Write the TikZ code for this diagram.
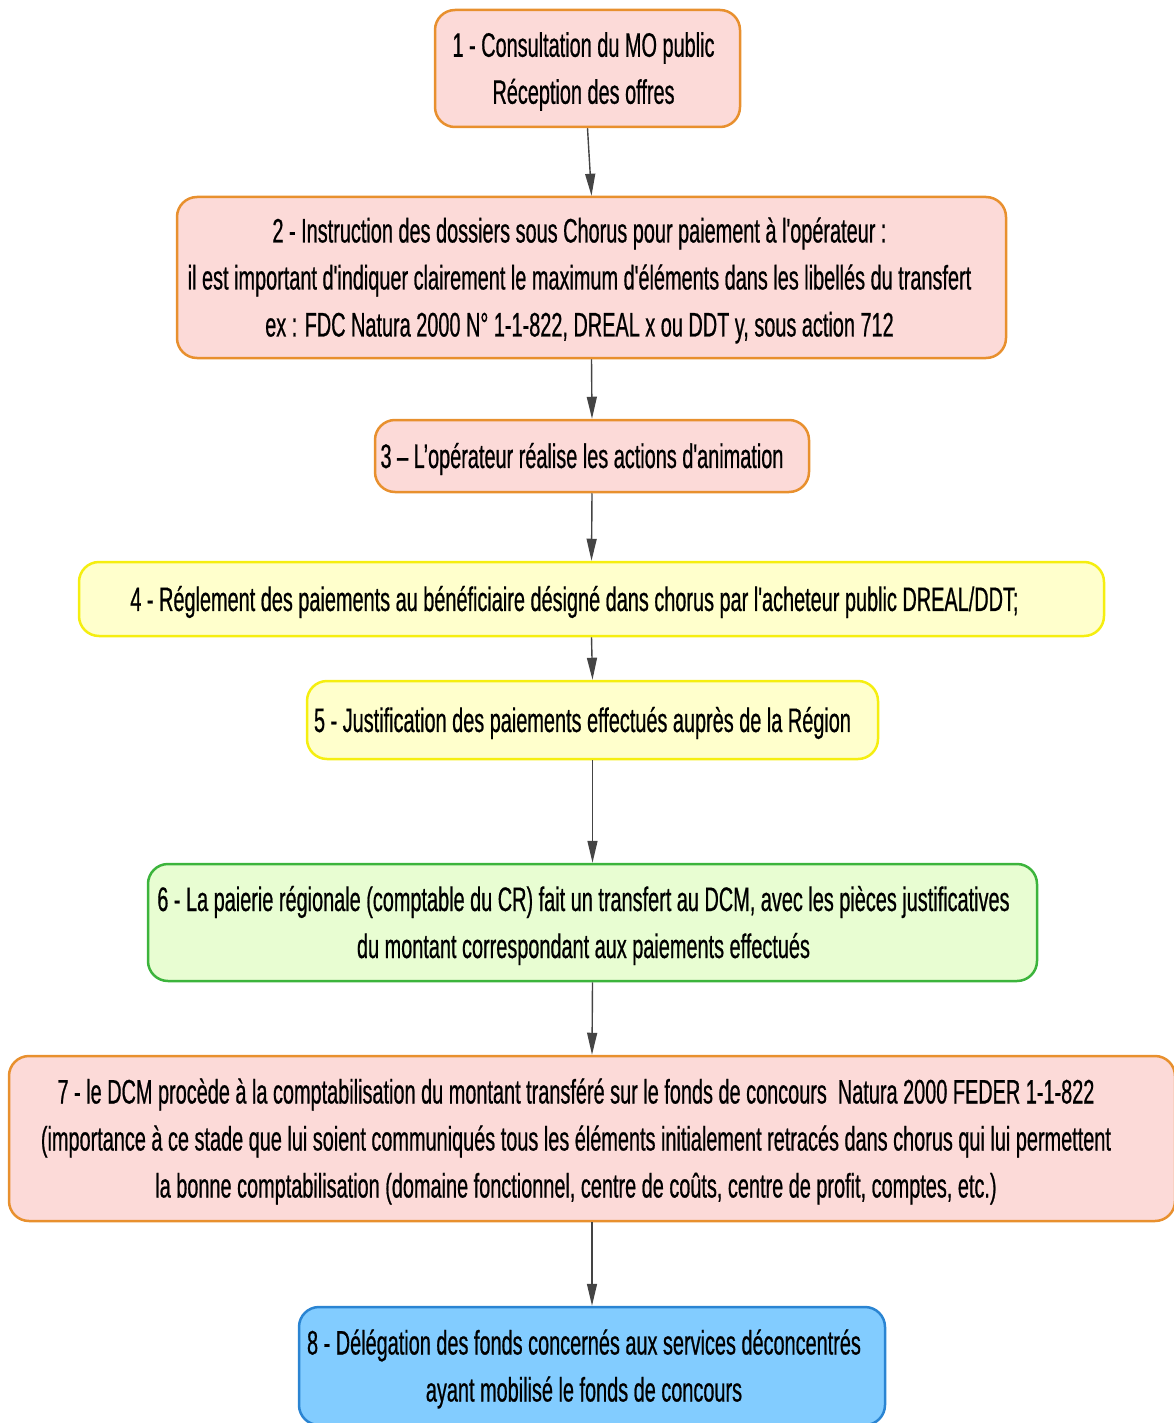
\documentclass[tikz,border=0pt]{standalone}
\usepackage{fontspec}
\newfontfamily\narrowfont{Liberation Sans}[FakeStretch=0.585,FakeBold=0.6]
\usetikzlibrary{arrows.meta}
\definecolor{pinkfill}{HTML}{FCDAD8}
\definecolor{orangeline}{HTML}{E8902E}
\definecolor{yellowfill}{HTML}{FFFFCC}
\definecolor{yellowline}{HTML}{F5EE10}
\definecolor{greenfill}{HTML}{E8FDD2}
\definecolor{greenline}{HTML}{3CB43C}
\definecolor{bluefill}{HTML}{82CCFF}
\definecolor{blueline}{HTML}{2A84D2}
\definecolor{arrowgray}{HTML}{444444}
\tikzset{
  box/.style={rectangle, rounded corners=20pt, line width=2.5pt, inner sep=0pt},
  pinkbox/.style={box, draw=orangeline, fill=pinkfill},
  yellowbox/.style={box, draw=yellowline, fill=yellowfill},
  greenbox/.style={box, draw=greenline, fill=greenfill},
  bluebox/.style={box, draw=blueline, fill=bluefill},
  txt/.style={align=center, inner sep=0pt, font=\narrowfont\fontsize{34}{47}\selectfont, text=black},
  conn/.style={draw=arrowgray, line width=1.4pt, -{Triangle[length=22pt,width=10pt]}}
}
\begin{document}
\begin{tikzpicture}[x=1pt,y=-1pt]
\useasboundingbox (0,0) rectangle (1174,1423);
\node[pinkbox, minimum width=305pt, minimum height=117pt] (b1) at (587.5,68.5) {};
\node[pinkbox, minimum width=829pt, minimum height=161pt] (b2) at (591.5,277.5) {};
\node[pinkbox, minimum width=434pt, minimum height=72pt] (b3) at (592,456) {};
\node[yellowbox, minimum width=1025pt, minimum height=74pt] (b4) at (591.5,599) {};
\node[yellowbox, minimum width=571pt, minimum height=78pt] (b5) at (592.5,720) {};
\node[greenbox, minimum width=889pt, minimum height=117pt] (b6) at (592.5,922.5) {};
\node[pinkbox, minimum width=1166pt, minimum height=165pt] (b7) at (592,1138.5) {};
\node[bluebox, minimum width=586pt, minimum height=118pt] (b8) at (592,1366) {};

\node[txt] (t1) at ([xshift=-4pt,yshift=-3pt]b1.center) {1 - Consultation du MO public\\Réception des offres};
\node[txt] (t2) at ([xshift=-12pt,yshift=-3pt]b2.center) {2 - Instruction des dossiers sous Chorus pour paiement à l'opérateur :\\il est important d'indiquer clairement le maximum d'éléments dans les libellés du transfert\\ex : FDC Natura 2000 N° 1-1-822, DREAL x ou DDT y, sous action 712};
\node[txt] (t3) at ([xshift=-10pt,yshift=-3pt]b3.center) {3 – L’opérateur réalise les actions d'animation};
\node[txt] (t4) at ([xshift=-17pt,yshift=-3pt]b4.center) {4 - Réglement des paiements au bénéficiaire désigné dans chorus par l'acheteur public DREAL/DDT;};
\node[txt] (t5) at ([xshift=-10pt,yshift=-3pt]b5.center) {5 - Justification des paiements effectués auprès de la Région};
\node[txt] (t6) at ([xshift=-9pt,yshift=-3pt]b6.center) {6 - La paierie régionale (comptable du CR) fait un transfert au DCM, avec les pièces justificatives\\du montant correspondant aux paiements effectués};
\node[txt] (t7) at ([xshift=-16pt,yshift=-3pt]b7.center) {7 - le DCM procède à la comptabilisation du montant transféré sur le fonds de concours\ \ Natura 2000 FEDER 1-1-822\\(importance à ce stade que lui soient communiqués tous les éléments initialement retracés dans chorus qui lui permettent\\la bonne comptabilisation (domaine fonctionnel, centre de coûts, centre de profit, comptes, etc.)};
\node[txt] (t8) at ([xshift=-8pt,yshift=-3pt]b8.center) {8 - Délégation des fonds concernés aux services déconcentrés\\ayant mobilisé le fonds de concours};

\draw[conn] (b1.south) -- (b2.north);
\draw[conn] (b2.south) -- (b3.north);
\draw[conn] (b3.south) -- (b4.north);
\draw[conn] (b4.south) -- (b5.north);
\draw[conn] (b5.south) -- (b6.north);
\draw[conn] (b6.south) -- (b7.north);
\draw[conn] (b7.south) -- (b8.north);
\end{tikzpicture}
\end{document}
